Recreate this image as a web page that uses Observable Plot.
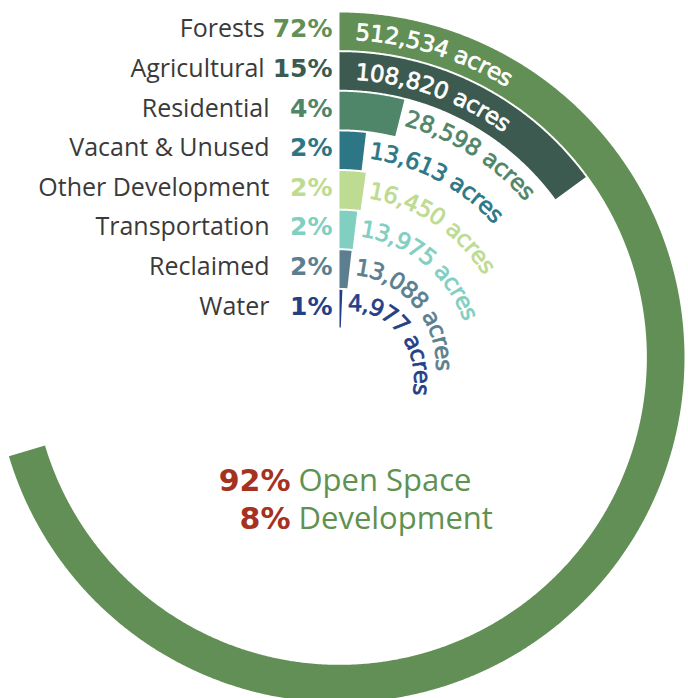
<!DOCTYPE html>
<html>
<head>
<meta charset="utf-8">
<script src="https://cdn.jsdelivr.net/npm/d3@7"></script>
<script src="https://cdn.jsdelivr.net/npm/@observablehq/plot@0.6"></script>
<style>
  html, body { margin: 0; padding: 0; background: #ffffff; }
  svg { display: block; }
</style>
</head>
<body>
<script>
// ---------------- data ----------------
const categories = ["Forests", "Agricultural", "Residential", "Vacant & Unused", "Other Development", "Transportation", "Reclaimed", "Water"];
const acres = [512534, 108820, 28598, 13613, 16450, 13975, 13088, 4977];
const percentLabels = ["72%", "15%", "4%", "2%", "2%", "2%", "2%", "1%"];
const colors = ["#628f55", "#3c5a50", "#4f8569", "#2c7686", "#bddb91", "#80cfc1", "#5b7f8f", "#253f86"];
const summaryPct = ["92%", "8%"];
const summaryLabels = ["Open Space", "Development"];

// ---------------- layout ----------------
const W = 688, H = 698;
const CX = 339, CY = 357;          // centre of the radial chart (pixels)
const R_OUT = 345, R_IN = 30;      // radial extent of the bands
const ANGLE_MAX = 352;             // degrees for the full total
const ARC_FS = 23, LABEL_FS = 25, PCT_FS = 25, SUM_FS = 31;
const ARC_FONT = `${ARC_FS}px "DejaVu Sans"`;
const PCT_FONT = `bold ${PCT_FS}px "DejaVu Sans"`;

const ctx = document.createElement("canvas").getContext("2d");
function measure(str, font) { ctx.font = font; return ctx.measureText(str).width; }

// radial band scale (category -> radius) and angular scale (acres -> degrees)
const radial = Plot.scale({y: {type: "band", domain: categories.slice().reverse(), range: [R_IN, R_OUT], paddingInner: 0.05, paddingOuter: 0, round: false}});
const angle = Plot.scale({x: {type: "linear", domain: [0, d3.sum(acres)], range: [0, ANGLE_MAX]}});
const bw = radial.bandwidth;
const rad = Math.PI / 180;

// ---------------- arcs ----------------
const arcPts = [];
categories.forEach((cat, i) => {
  const inner = radial.apply(cat), outer = inner + bw;
  const th = angle.apply(acres[i]) * rad;
  const n = Math.max(2, Math.ceil(th / (0.25 * rad)));
  for (let k = 0; k <= n; ++k) { const t = th * k / n; arcPts.push({cat, x: outer * Math.sin(t), y: outer * Math.cos(t)}); }
  for (let k = n; k >= 0; --k) { const t = th * k / n; arcPts.push({cat, x: inner * Math.sin(t), y: inner * Math.cos(t)}); }
});

// ---------------- curved value labels ----------------
const fmt = d3.format(",");
const chars = [];
categories.forEach((cat, i) => {
  const text = fmt(acres[i]) + " acres";
  const L = measure(text, ARC_FONT);
  const inner = radial.apply(cat), rMid = inner + bw / 2;
  const thEnd = angle.apply(acres[i]) * rad;
  const insideStart = 16;
  const inside = insideStart + L + 10 < rMid * thEnd;
  let r0, g, start;
  if (inside) { r0 = rMid - 1; g = 0; start = insideStart / r0; }
  else { r0 = rMid + 250 / rMid; g = 760 / (r0 * r0); start = thEnd + 6 / r0; }
  for (let j = 0; j < text.length; ++j) {
    const ch = text[j];
    if (ch === " ") continue;
    const u = (measure(text.slice(0, j), ARC_FONT) + measure(text.slice(0, j + 1), ARC_FONT)) / 2;
    let r, t;
    if (g === 0) { r = r0; t = start + u / r0; }
    else { r = r0 + g * u; t = start + Math.sqrt(1 - g * g) / g * Math.log(r / r0); }
    chars.push({cat, ch, inside, x: r * Math.sin(t), y: r * Math.cos(t), rot: t / rad - (g ? Math.asin(g) / rad : 0)});
  }
});

// ---------------- left labels ----------------
const LABEL_ALIGN = 269 - CX;
const labels = categories.map((cat, i) => {
  const pctW = measure(percentLabels[i], PCT_FONT);
  const pctEnd = -7;
  return {cat, pct: percentLabels[i], y: radial.apply(cat) + bw / 2, px: pctEnd, lx: Math.min(LABEL_ALIGN, pctEnd - pctW - 8)};
});

// ---------------- summary ----------------
const summary = summaryPct.map((p, i) => ({pct: p, label: summaryLabels[i], y: (CY - 490) - 38 * i}));

const chart = Plot.plot({
  width: W, height: H,
  marginTop: 0, marginRight: 0, marginBottom: 0, marginLeft: 0,
  x: {domain: [-CX, W - CX], axis: null},
  y: {domain: [CY - H, CY], axis: null},
  color: {domain: categories, range: colors},
  marks: [
    Plot.line(arcPts, {x: "x", y: "y", z: "cat", fill: "cat", stroke: "none"}),
    Plot.text(chars.filter(d => d.inside), {x: "x", y: "y", text: "ch", rotate: "rot", fill: "white", stroke: "white", strokeWidth: 0.7, fontSize: ARC_FS, fontFamily: "DejaVu Sans", textAnchor: "middle", lineAnchor: "middle"}),
    Plot.text(chars.filter(d => !d.inside), {x: "x", y: "y", text: "ch", rotate: "rot", fill: "cat", stroke: "cat", strokeWidth: 0.7, fontSize: ARC_FS, fontFamily: "DejaVu Sans", textAnchor: "middle", lineAnchor: "middle"}),
    Plot.text(labels, {x: "px", y: "y", text: "pct", fill: "cat", textAnchor: "end", lineAnchor: "middle", dy: -2, fontSize: PCT_FS, fontFamily: "DejaVu Sans", fontWeight: "bold"}),
    Plot.text(labels, {x: "lx", y: "y", text: "cat", fill: "#3a3a3a", textAnchor: "end", lineAnchor: "middle", dy: -2, fontSize: LABEL_FS, fontFamily: "Open Sans"}),
    Plot.text(summary, {x: () => -49, y: "y", text: "pct", fill: "#a5311f", textAnchor: "end", lineAnchor: "bottom", fontSize: 30, fontFamily: "DejaVu Sans", fontWeight: "bold"}),
    Plot.text(summary, {x: () => -41, y: "y", text: "label", fill: "#5f9150", textAnchor: "start", lineAnchor: "bottom", fontSize: SUM_FS, fontFamily: "Open Sans"})
  ]
});
document.body.appendChild(chart);
</script>
</body>
</html>
